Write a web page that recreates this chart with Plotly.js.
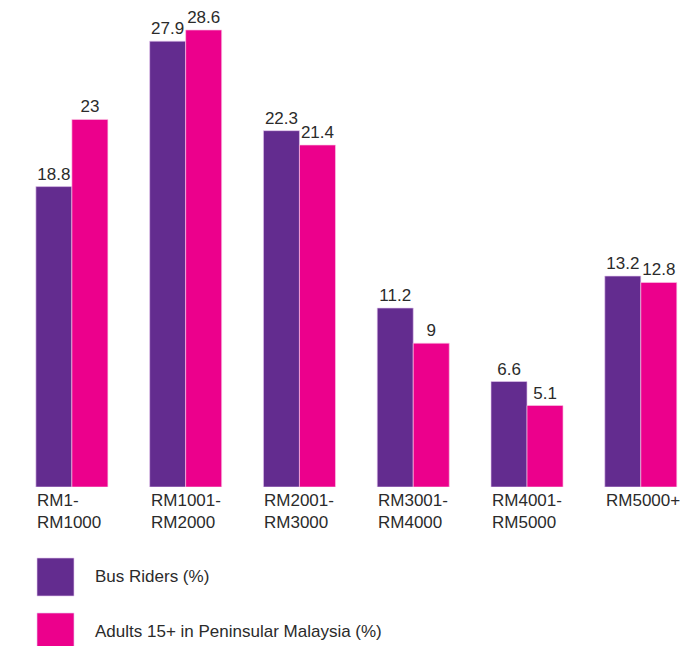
<!DOCTYPE html>
<html>
<head>
<meta charset="utf-8">
<script src="https://cdn.plot.ly/plotly-3.0.1.min.js"></script>
<style>html,body{margin:0;padding:0;background:#fff;}#chart{width:693px;height:646px;}</style>
</head>
<body>
<div id="chart"></div>
<script>
// Data
const categories = ["RM1-RM1000", "RM1001-RM2000", "RM2001-RM3000", "RM3001-RM4000", "RM4001-RM5000", "RM5000+"];
const categoryLabels = ["RM1-<br>RM1000", "RM1001-<br>RM2000", "RM2001-<br>RM3000", "RM3001-<br>RM4000", "RM4001-<br>RM5000", "RM5000+"];
const busRiders = [18.8, 27.9, 22.3, 11.2, 6.6, 13.2];
const adults = [23, 28.6, 21.4, 9, 5.1, 12.8];
const seriesNames = ["Bus Riders (%)", "Adults 15+ in Peninsular Malaysia (%)"];

const PURPLE = "#632c8f";
const MAGENTA = "#ec008c";
const TEXT = "#2b2b2b";
const FONT = "Liberation Sans, Arial, sans-serif";

const xIdx = categories.map((c, i) => i);

const traces = [
  {
    type: "bar", x: xIdx, y: busRiders, name: seriesNames[0],
    marker: {color: PURPLE, line: {color: "rgba(230,200,240,0.8)", width: 0.8}},
    text: busRiders.map(String), textposition: "outside",
    textfont: {family: FONT, size: 17, color: TEXT},
    cliponaxis: false, hoverinfo: "none", showlegend: false
  },
  {
    type: "bar", x: xIdx, y: adults, name: seriesNames[1],
    marker: {color: MAGENTA, line: {color: "rgba(250,200,230,0.8)", width: 0.8}},
    text: adults.map(String), textposition: "outside",
    textfont: {family: FONT, size: 17, color: TEXT},
    cliponaxis: false, hoverinfo: "none", showlegend: false
  }
];

const annotations = categoryLabels.map((lab, i) => ({
  x: i, xref: "x", y: 0, yref: "paper",
  xanchor: "left", yanchor: "top", xshift: -37, yshift: -2,
  align: "left", showarrow: false, text: lab,
  font: {family: FONT, size: 17, color: TEXT}
}));

// legend (custom large swatches)
const W = 677, H = 477, L = 15, T = 10;
const px = v => (v - L) / W;
const py = v => (T + H - v) / H;
const legendRows = [
  {name: seriesNames[0], color: PURPLE, y0: 558, y1: 596, ty: 576},
  {name: seriesNames[1], color: MAGENTA, y0: 613, y1: 651, ty: 631}
];
const shapes = legendRows.map(r => ({
  type: "rect", xref: "paper", yref: "paper",
  x0: px(37), x1: px(74), y0: py(r.y1), y1: py(r.y0),
  fillcolor: r.color, line: {color: "rgba(230,200,240,0.8)", width: 0.8}
}));
legendRows.forEach(r => annotations.push({
  x: px(93), xref: "paper", y: py(r.ty), yref: "paper",
  xanchor: "left", yanchor: "middle", showarrow: false, text: r.name,
  font: {family: FONT, size: 17, color: TEXT}
}));

const layout = {
  width: 693, height: 646,
  margin: {l: L, r: 693 - L - W, t: T, b: 646 - T - H, pad: 0},
  paper_bgcolor: "#fff", plot_bgcolor: "#fff",
  barmode: "group", bargap: 0.367, bargroupgap: 0,
  xaxis: {type: "linear", range: [-0.5, 5.45], showticklabels: false, showgrid: false, zeroline: false, showline: false, ticks: ""},
  yaxis: {range: [0, 29.85], visible: false, showgrid: false, zeroline: false},
  showlegend: false,
  annotations: annotations,
  shapes: shapes,
  font: {family: FONT, color: TEXT}
};

Plotly.newPlot("chart", traces, layout, {staticPlot: true, displayModeBar: false});
</script>
</body>
</html>
